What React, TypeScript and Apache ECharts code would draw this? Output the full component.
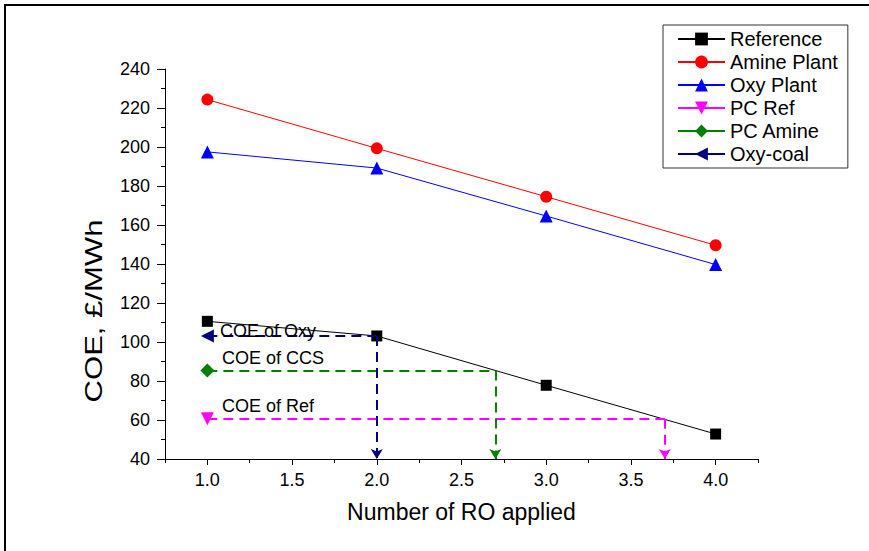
import { useEffect, useRef } from "react";
import * as echarts from "echarts";

// ---- data ----
const roValues = [1, 2, 3, 4];
const referenceCOE = [110.6, 103.1, 77.8, 52.8];
const amineCOE = [224.3, 199.3, 174.5, 149.6];
const oxyCOE = [197.5, 189.2, 164.6, 139.7];
const pcRefCOE = 60.7;
const pcAmineCOE = 85.4;
const oxyCoalCOE = 103.1;
const pcRefRO = 3.7;
const pcAmineRO = 2.7;
const oxyCoalRO = 2.0;
const xTickValues = [1, 1.5, 2, 2.5, 3, 3.5, 4];
const seriesNames = ["Reference", "Amine Plant", "Oxy Plant", "PC Ref", "PC Amine", "Oxy-coal"];
const annotationLabels = ["COE of Oxy", "COE of CCS", "COE of Ref"];
const xTitle = "Number of RO applied";
const yTitle = "COE, £/MWh";

const FONT = '"Liberation Sans", Arial, Helvetica, sans-serif';
const Y_MIN = 40;

function guide(y: number, xCross: number, color: string) {
  return {
    silent: true,
    symbol: ["none", "arrow"],
    symbolSize: [9, 10],
    label: { show: false },
    emphasis: { disabled: true },
    lineStyle: { color, type: [10, 6], width: 2 },
    data: [
      [
        { coord: [roValues[0], y], symbol: "none" },
        { coord: [xCross, y], symbol: "none" },
      ],
      [
        { coord: [xCross, y], symbol: "none" },
        { coord: [xCross, Y_MIN], symbol: "arrow" },
      ],
    ],
  };
}

export default function App() {
  const ref = useRef<HTMLDivElement>(null);
  useEffect(() => {
    if (!ref.current) return;
    const chart = echarts.init(ref.current, undefined, { renderer: "svg" });
    const axisColor = "#000";
    const option: any = {
      animation: false,
      backgroundColor: "#fff",
      grid: { left: 165, right: 111, top: 69, bottom: 92, containLabel: false },
      legend: {
        data: seriesNames,
        orient: "vertical",
        left: 663,
        top: 25,
        itemWidth: 47,
        itemHeight: 16,
        itemGap: 3,
        padding: [4, 10, 4, 14],
        borderColor: "#333",
        borderWidth: 1,
        backgroundColor: "#fff",
        textStyle: { fontSize: 20, fontFamily: FONT, color: "#000", lineHeight: 20 },
      },
      xAxis: [
        {
          type: "value",
          min: 0.75,
          max: 4.25,
          interval: 0.25,
          name: xTitle,
          nameLocation: "middle",
          nameGap: 41,
          nameTextStyle: { fontSize: 23, fontFamily: FONT, color: "#000" },
          axisLine: { show: true, lineStyle: { color: axisColor, width: 1 } },
          axisTick: { show: true, length: 6, customValues: xTickValues, lineStyle: { color: axisColor } },
          axisLabel: {
            customValues: xTickValues,
            margin: 12,
            fontSize: 18,
            fontFamily: FONT,
            color: "#000",
            formatter: (v: number) => (Math.abs(v * 2 - Math.round(v * 2)) < 1e-6 ? v.toFixed(1) : ""),
          },
          splitLine: { show: false },
        },
        {
          type: "value",
          position: "bottom",
          min: 0.75,
          max: 4.25,
          interval: 0.25,
          axisLine: { show: false },
          axisTick: { show: true, length: 4, lineStyle: { color: axisColor } },
          axisLabel: { show: false },
          splitLine: { show: false },
        },
      ],
      yAxis: {
        type: "value",
        min: Y_MIN,
        max: 240,
        interval: 20,
        axisLine: { show: true, lineStyle: { color: axisColor, width: 1 } },
        axisTick: { show: true, length: 8, lineStyle: { color: axisColor } },
        minorTick: { show: true, splitNumber: 2, length: 4, lineStyle: { color: axisColor } },
        axisLabel: { margin: 15, fontSize: 18, fontFamily: FONT, color: "#000" },
        splitLine: { show: false },
      },
      series: [
        {
          name: seriesNames[0],
          type: "line",
          data: roValues.map((x, i) => [x, referenceCOE[i]]),
          symbol: "rect",
          symbolSize: 11,
          lineStyle: { color: "#000", width: 1 },
          itemStyle: { color: "#000" },
          z: 3,
        },
        {
          name: seriesNames[1],
          type: "line",
          data: roValues.map((x, i) => [x, amineCOE[i]]),
          symbol: "circle",
          symbolSize: 12,
          lineStyle: { color: "#ff0000", width: 1 },
          itemStyle: { color: "#ff0000" },
        },
        {
          name: seriesNames[2],
          type: "line",
          data: roValues.map((x, i) => [x, oxyCOE[i]]),
          symbol: "triangle",
          symbolSize: 13,
          lineStyle: { color: "#0000ff", width: 1 },
          itemStyle: { color: "#0000ff" },
        },
        {
          name: seriesNames[3],
          type: "line",
          data: [[roValues[0], pcRefCOE]],
          symbol: "triangle",
          symbolRotate: 180,
          symbolSize: 13,
          lineStyle: { color: "#ff00ff", width: 1 },
          itemStyle: { color: "#ff00ff" },
          markLine: guide(pcRefCOE, pcRefRO, "#ff00ff"),
        },
        {
          name: seriesNames[4],
          type: "line",
          data: [[roValues[0], pcAmineCOE]],
          symbol: "diamond",
          symbolSize: 14,
          lineStyle: { color: "#008000", width: 1 },
          itemStyle: { color: "#008000" },
          markLine: guide(pcAmineCOE, pcAmineRO, "#008000"),
        },
        {
          name: seriesNames[5],
          type: "line",
          data: [[roValues[0], oxyCoalCOE]],
          symbol: "triangle",
          symbolRotate: 90,
          symbolSize: 13,
          lineStyle: { color: "#000080", width: 1 },
          itemStyle: { color: "#000080" },
          markLine: guide(oxyCoalCOE, oxyCoalRO, "#000080"),
        },
      ],
      graphic: [
        {
          type: "rect",
          silent: true,
          shape: { x: 5, y: 5, width: 1000, height: 1000 },
          style: { fill: "none", stroke: "#000", lineWidth: 2 },
        },
        {
          type: "text",
          silent: true,
          x: 94,
          y: 311,
          rotation: Math.PI / 2,
          scaleX: 1.35,
          style: {
            text: yTitle,
            fontSize: 23,
            fontFamily: FONT,
            fill: "#000",
            align: "center",
            verticalAlign: "middle",
          },
        },
        {
          type: "text",
          silent: true,
          x: 220,
          y: 331,
          z: 10,
          style: { text: annotationLabels[0], fontSize: 18, fontFamily: FONT, fill: "#000", verticalAlign: "middle" },
        },
        {
          type: "text",
          silent: true,
          x: 222,
          y: 358,
          style: { text: annotationLabels[1], fontSize: 18, fontFamily: FONT, fill: "#000", verticalAlign: "middle" },
        },
        {
          type: "text",
          silent: true,
          x: 222,
          y: 406,
          style: { text: annotationLabels[2], fontSize: 18, fontFamily: FONT, fill: "#000", verticalAlign: "middle" },
        },
      ],
    };
    chart.setOption(option);
    return () => chart.dispose();
  }, []);
  return (
    <div
      ref={ref}
      style={{ position: "fixed", left: 0, top: 0, width: 869, height: 551, overflow: "hidden", background: "#fff" }}
    />
  );
}
